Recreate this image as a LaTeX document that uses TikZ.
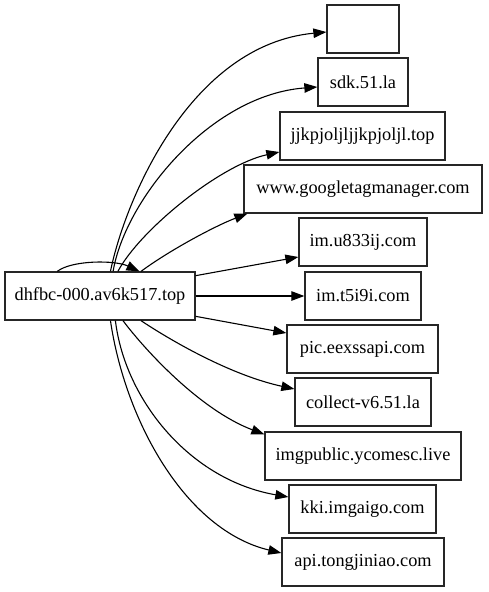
\documentclass[tikz,border=0pt]{standalone}
\usepackage{fontspec}
\setmainfont{Liberation Serif}
\usetikzlibrary{arrows.meta}
\begin{document}
\begin{tikzpicture}[x=1pt,y=-1pt,
  box/.style={draw=black!85,line width=1.3pt,inner sep=0pt,minimum height=48pt,
    font=\fontsize{18.3}{20}\selectfont},
  edge/.style={line width=1.1pt,-{Triangle[length=13pt,width=9.5pt]}}]
\useasboundingbox (0,0) rectangle (488,592);
\node[box,minimum width=190pt] (main) at (100,296) {dhfbc-000.av6k517.top};
\node[box,minimum width=72pt]  (n0) at (363,29) {};
\node[box,minimum width=90pt]  (n1) at (363,82) {sdk.51.la};
\node[box,minimum width=165pt] (n2) at (362.5,136) {jjkpjoljljjkpjoljl.top};
\node[box,minimum width=238pt] (n3) at (363,189) {www.googletagmanager.com};
\node[box,minimum width=128pt] (n4) at (363,242) {im.u833ij.com};
\node[box,minimum width=116pt] (n5) at (363,296) {im.t5i9i.com};
\node[box,minimum width=151pt] (n6) at (362.5,349) {pic.eexssapi.com};
\node[box,minimum width=136pt] (n7) at (363,402) {collect-v6.51.la};
\node[box,minimum width=196pt] (n8) at (363,456) {imgpublic.ycomesc.live};
\node[box,minimum width=147pt] (n9) at (362.5,509) {kki.imgaigo.com};
\node[box,minimum width=162pt] (n10) at (363,562) {api.tongjiniao.com};
% self loop
\draw[edge] (main.150) .. controls (72,260) and (115,260) .. (main.32);
% upward edges
\draw[edge] (main.67) .. controls (125,200) and (190,45) .. ([yshift=-3pt]n0.west);
\draw[edge] (main.62) .. controls (125,200) and (210,95) .. ([yshift=-5pt]n1.west);
\draw[edge] (main.54) .. controls (140,230) and (220,165) .. ([yshift=-16pt]n2.west);
\draw[edge] (main.31) .. controls (170,250) and (215,226) .. ([xshift=4pt]n3.south west);
\draw[edge] (main.12) -- ([yshift=-15pt]n4.west);
\draw[edge] (main.east) -- (n5.west);
\draw[edge] (main.-12) -- ([yshift=16pt]n6.west);
% downward edges
\draw[edge] (main.-31) .. controls (170,340) and (230,375) .. ([yshift=13pt]n7.west);
\draw[edge] (main.-47.5) .. controls (145,350) and (200,410) .. ([yshift=-3pt]n8.north west);
\draw[edge] (main.-58) .. controls (125,400) and (190,480) .. ([yshift=12pt]n9.west);
\draw[edge] (main.-67) .. controls (125,420) and (185,530) .. ([yshift=9pt]n10.west);
\end{tikzpicture}
\end{document}
